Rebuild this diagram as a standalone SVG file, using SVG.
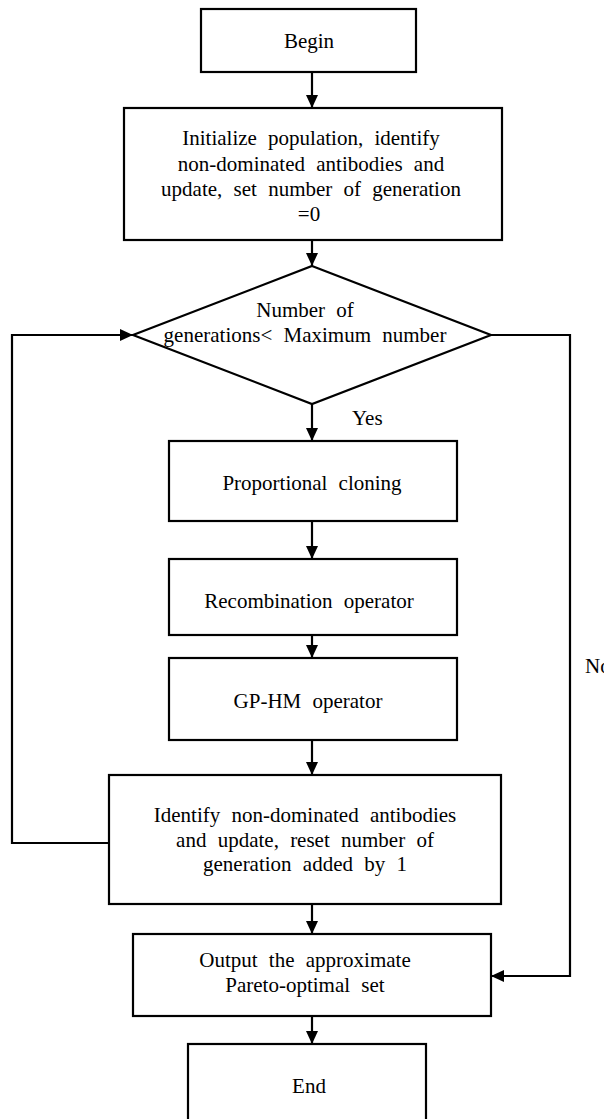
<svg xmlns="http://www.w3.org/2000/svg" width="604" height="1119" viewBox="0 0 604 1119">
<style>
.box{fill:#fff;stroke:#000;stroke-width:2.2}
.t{font-family:"Liberation Serif","Times New Roman",serif;font-size:21px;fill:#000;text-anchor:middle;word-spacing:6px}
.l{font-family:"Liberation Serif","Times New Roman",serif;font-size:21px;fill:#000}
.c{fill:none;stroke:#000;stroke-width:2.2}
</style>
<defs>
<marker id="ah" markerUnits="userSpaceOnUse" markerWidth="13" markerHeight="12" refX="13" refY="6" orient="auto">
<path d="M0,0 L13,6 L0,12 z" fill="#000"/>
</marker>
</defs>
<rect width="604" height="1119" fill="#fff"/>
<g id="connectors">
<line class="c" x1="312" y1="72" x2="312" y2="108" marker-end="url(#ah)"/>
<line class="c" x1="312" y1="240" x2="312" y2="266" marker-end="url(#ah)"/>
<line class="c" x1="312" y1="404" x2="312" y2="441" marker-end="url(#ah)"/>
<line class="c" x1="312" y1="521" x2="312" y2="559" marker-end="url(#ah)"/>
<line class="c" x1="312" y1="635" x2="312" y2="658" marker-end="url(#ah)"/>
<line class="c" x1="312" y1="740" x2="312" y2="775" marker-end="url(#ah)"/>
<line class="c" x1="312" y1="904" x2="312" y2="934" marker-end="url(#ah)"/>
<line class="c" x1="312" y1="1016" x2="312" y2="1044" marker-end="url(#ah)"/>
<polyline class="c" points="109,843 12,843 12,335 133,335" marker-end="url(#ah)"/>
<polyline class="c" points="491,335 570,335 570,976 491,976" marker-end="url(#ah)"/>
<text class="l" x="352" y="425">Yes</text>
<text class="l" x="585" y="673">No</text>
</g>
<g id="begin">
<rect class="box" x="201" y="9" width="215" height="63"/>
<text class="t" x="309" y="48">Begin</text>
</g>
<g id="init">
<rect class="box" x="124" y="108" width="378" height="132"/>
<text class="t" x="311" y="145">Initialize population, identify</text>
<text class="t" x="311" y="171">non-dominated antibodies and</text>
<text class="t" x="311" y="196">update, set number of generation</text>
<text class="t" x="309" y="221">=0</text>
</g>
<g id="decision">
<polygon class="box" points="312,266 491,335 312,404 133,335"/>
<text class="t" x="305" y="317">Number of</text>
<text class="t" x="305" y="342">generations&lt; Maximum number</text>
</g>
<g id="cloning">
<rect class="box" x="169" y="441" width="288" height="80"/>
<text class="t" x="312" y="490">Proportional cloning</text>
</g>
<g id="recombination">
<rect class="box" x="169" y="559" width="288" height="76"/>
<text class="t" x="309" y="608">Recombination operator</text>
</g>
<g id="gphm">
<rect class="box" x="169" y="658" width="288" height="82"/>
<text class="t" x="308" y="708">GP-HM operator</text>
</g>
<g id="identify">
<rect class="box" x="109" y="775" width="392" height="129"/>
<text class="t" x="305" y="822">Identify non-dominated antibodies</text>
<text class="t" x="305" y="847">and update, reset number of</text>
<text class="t" x="305" y="871">generation added by 1</text>
</g>
<g id="output">
<rect class="box" x="133" y="934" width="358" height="82"/>
<text class="t" x="305" y="967">Output the approximate</text>
<text class="t" x="305" y="992">Pareto-optimal set</text>
</g>
<g id="end">
<rect class="box" x="188" y="1044" width="238" height="90"/>
<text class="t" x="309" y="1093">End</text>
</g>
</svg>
